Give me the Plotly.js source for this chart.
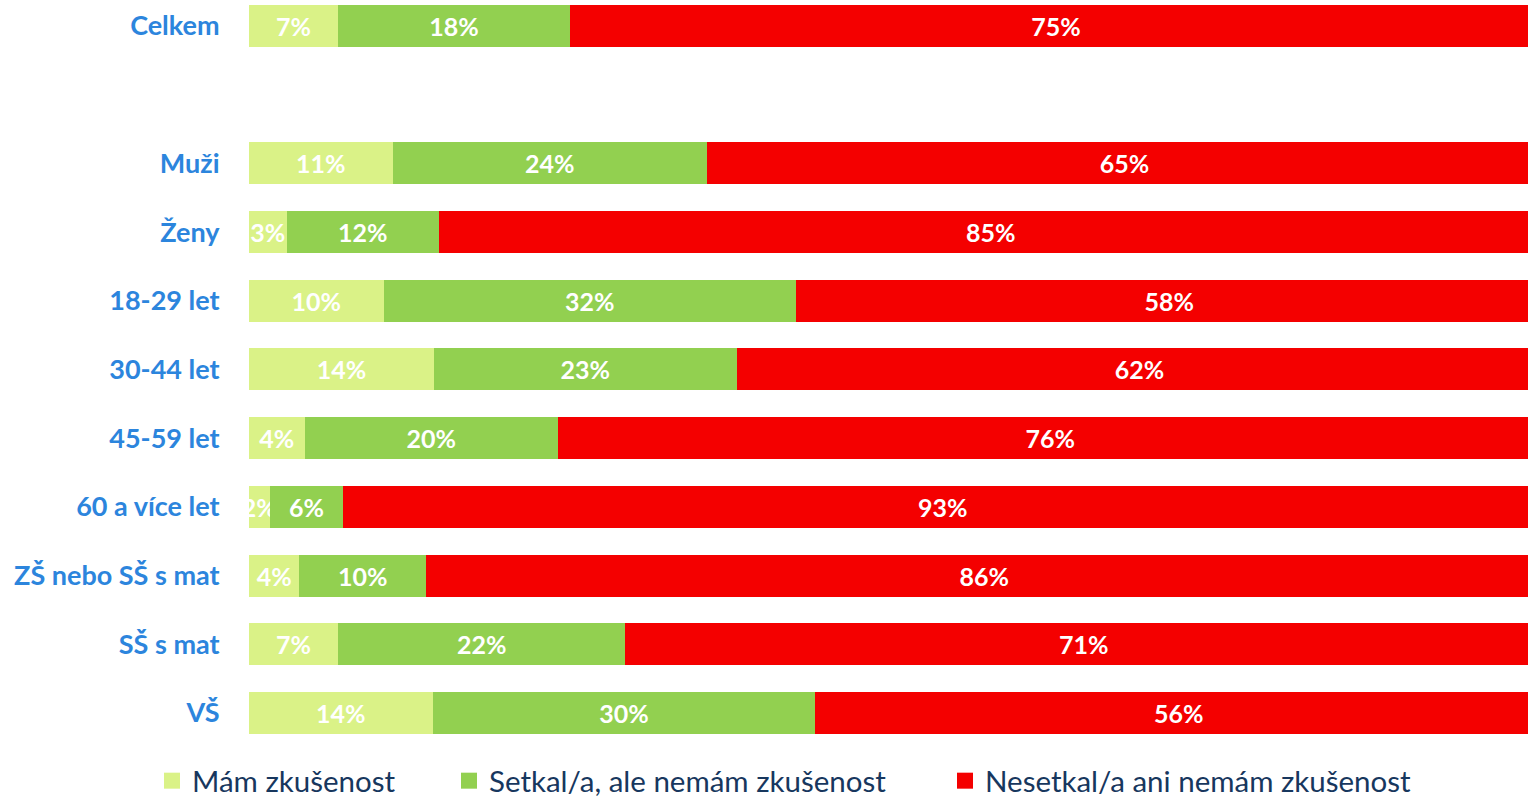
<!DOCTYPE html>
<html>
<head>
<meta charset="utf-8">
<script src="https://cdn.plot.ly/plotly-3.0.1.min.js"></script>
<style>
  html, body { margin: 0; padding: 0; background: #ffffff; }
  #chart { width: 1528px; height: 800px; }
</style>
</head>
<body>
<div id="chart"></div>
<script>
// Categories (top to bottom); ' ' is the empty spacer row below "Celkem"
const categories = ['Celkem', ' ', 'Muži', 'Ženy', '18-29 let', '30-44 let', '45-59 let',
                    '60 a více let', 'ZŠ nebo SŠ s mat', 'SŠ s mat', 'VŠ'];

const seriesNames = ['Mám zkušenost', 'Setkal/a, ale nemám zkušenost', 'Nesetkal/a ani nemám zkušenost'];

// Percent values
const mamZkusenost   = [6.9, null, 11.1, 2.9, 10.4, 14.3, 4.3, 1.6, 3.9, 6.9, 14.2];
const setkalNemam    = [17.9, null, 24.3, 11.8, 31.9, 23.4, 19.6, 5.7, 9.8, 22.2, 29.6];
const nesetkalNemam  = [75.2, null, 64.6, 85.3, 57.7, 62.3, 76.1, 92.7, 86.3, 70.9, 56.2];

const seriesValues = [mamZkusenost, setkalNemam, nesetkalNemam];
const colors = ['#daf287', '#92d050', '#f40000'];

const W = 1528, H = 800;
const plotLeft = 249, plotBottom = 750;
const legendNames = ['legend', 'legend2', 'legend3'];
const legendX = [152, 449, 945];

const traces = [];
seriesValues.forEach((vals, i) => {
  traces.push({
    type: 'bar',
    orientation: 'h',
    name: seriesNames[i],
    y: categories,
    x: vals,
    marker: { color: colors[i], line: { width: 0 } },
    texttemplate: '%{x:.0f}%',
    textposition: 'inside',
    insidetextanchor: 'middle',
    textangle: 0,
    constraintext: 'none',
    cliponaxis: true,
    textfont: { family: 'Lato', size: 25, color: '#ffffff', weight: 'bold' },
    showlegend: false,
    hoverinfo: 'skip'
  });
});
// legend entries (square swatches)
seriesNames.forEach((nm, i) => {
  traces.push({
    type: 'scatter',
    mode: 'markers',
    name: nm,
    x: [null],
    y: [null],
    marker: { symbol: 'square', size: 17, color: colors[i] },
    showlegend: true,
    legend: legendNames[i],
    hoverinfo: 'skip'
  });
});

const plotW = W - plotLeft;
function legendCfg(i) {
  return {
    orientation: 'h',
    x: (legendX[i] - plotLeft) / plotW,
    xanchor: 'left',
    y: -31 / plotBottom,
    yanchor: 'middle',
    bgcolor: 'rgba(0,0,0,0)',
    borderwidth: 0,
    itemsizing: 'trace',
    font: { family: 'Lato', size: 29.5, color: '#17375e' }
  };
}

const layout = {
  width: W,
  height: H,
  margin: { l: plotLeft, r: 0, t: 0, b: H - plotBottom, pad: 0, autoexpand: false },
  paper_bgcolor: '#ffffff',
  plot_bgcolor: 'rgba(0,0,0,0)',
  barmode: 'stack',
  bargap: 0.389,
  showlegend: true,
  legend: legendCfg(0),
  legend2: legendCfg(1),
  legend3: legendCfg(2),
  xaxis: {
    range: [0, 98.9],
    visible: false,
    showgrid: false,
    zeroline: false,
    fixedrange: true
  },
  yaxis: {
    type: 'category',
    categoryorder: 'array',
    categoryarray: categories,
    range: [10.539, -0.378],
    showgrid: false,
    zeroline: false,
    showline: false,
    ticks: 'outside',
    ticklen: 23,
    tickcolor: 'rgba(0,0,0,0)',
    tickfont: { family: 'Lato', size: 27, color: '#2c85dd', weight: 'bold' },
    fixedrange: true
  },
  hovermode: false
};

Plotly.newPlot('chart', traces, layout, { displayModeBar: false, staticPlot: true });
</script>
</body>
</html>
